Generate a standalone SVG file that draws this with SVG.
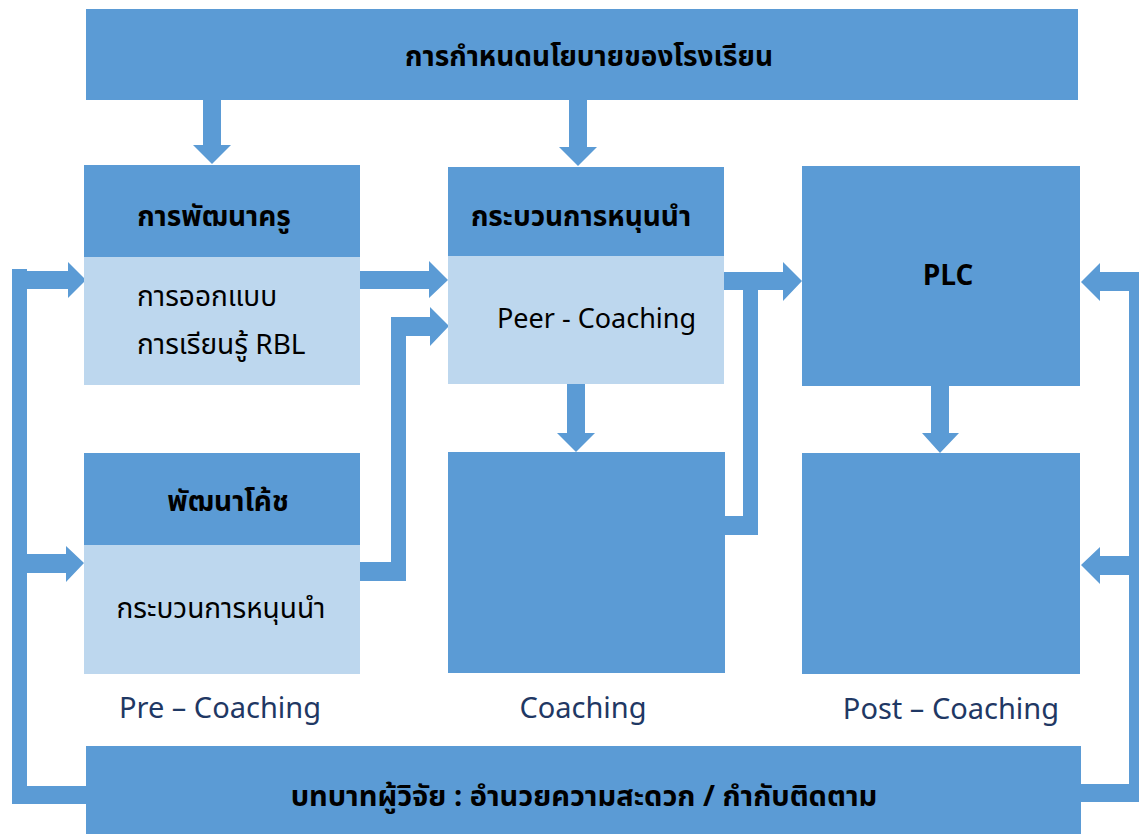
<svg xmlns="http://www.w3.org/2000/svg" width="1139" height="834" viewBox="0 0 1139 834">
<style>
.dk{fill:#5B9BD5}
.lt{fill:#BDD7EE}
.t{font-family:"Noto Sans Thai","Leelawadee UI","Tahoma","Noto Sans","DejaVu Sans",sans-serif;fill:#000}
.b{font-weight:bold;font-size:28px}
.r{font-size:28px}
.lab{font-family:"Noto Sans","Open Sans",sans-serif;font-size:29px;fill:#1F3864}
</style>
<rect width="1139" height="834" fill="#fff"/>
<g id="connectors" class="dk">
<polygon points="203,100 221,100 221,145 231,145 212,164 193,145 203,145"/>
<polygon points="569,100 587,100 587,147 597,147 578,166 559,147 569,147"/>
<polygon points="567,384 585,384 585,433 595,433 576,452 557,433 567,433"/>
<polygon points="931,386 949,386 949,433 959,433 940,453 922,433 931,433"/>
<rect x="12" y="269" width="15" height="535"/>
<rect x="12" y="786" width="75" height="18"/>
<polygon points="27,271 68,271 68,262 86,280 68,298 68,289 27,289"/>
<polygon points="27,554 66,554 66,546 84,563 66,582 66,573 27,573"/>
<polygon points="360,271 429,271 429,261 448,280 429,298 429,289 360,289"/>
<polygon points="360,562 391,562 391,317 430,317 430,307 449,326 430,346 430,336 406,336 406,581 360,581"/>
<polygon points="724,272 783,272 783,262 802,281 783,301 783,290 758,290 758,535 725,535 725,516 743,516 743,290 724,290"/>
<rect x="1129" y="272" width="15" height="530"/>
<rect x="1080" y="784" width="64" height="18"/>
<polygon points="1129,272 1100,272 1100,263 1081,282 1100,301 1100,291 1129,291"/>
<polygon points="1129,556 1100,556 1100,547 1081,565 1100,584 1100,575 1129,575"/>
</g>
<g id="policy">
<rect class="dk" x="86" y="9" width="992" height="91"/>
<text class="t b" x="589" y="66" text-anchor="middle">การกำหนดนโยบายของโรงเรียน</text>
</g>
<g id="teacher-dev">
<rect class="dk" x="84" y="165" width="276" height="92"/>
<rect class="lt" x="84" y="257" width="276" height="128"/>
<text class="t b" x="214" y="226" text-anchor="middle">การพัฒนาครู</text>
<text class="t r" x="137" y="306">การออกแบบ</text>
<text class="t r" x="137" y="354">การเรียนรู้ RBL</text>
</g>
<g id="coach-dev">
<rect class="dk" x="84" y="453" width="276" height="92"/>
<rect class="lt" x="84" y="545" width="276" height="129"/>
<text class="t b" x="228" y="511" text-anchor="middle">พัฒนาโค้ช</text>
<text class="t r" x="221" y="618" text-anchor="middle">กระบวนการหนุนนำ</text>
</g>
<g id="support-process">
<rect class="dk" x="448" y="167" width="276" height="89"/>
<rect class="lt" x="448" y="256" width="276" height="128"/>
<text class="t b" x="581" y="226" text-anchor="middle">กระบวนการหนุนนำ</text>
<text class="t r" x="497" y="328" style="font-size:27px">Peer - Coaching</text>
</g>
<g id="coaching-box">
<rect class="dk" x="448" y="452" width="277" height="221"/>
</g>
<g id="plc">
<rect class="dk" x="802" y="166" width="278" height="220"/>
<text class="t b" x="948" y="285" text-anchor="middle">PLC</text>
</g>
<g id="post-box">
<rect class="dk" x="802" y="453" width="278" height="221"/>
</g>
<g id="labels">
<text class="lab" x="220" y="718" text-anchor="middle">Pre – Coaching</text>
<text class="lab" x="583" y="718" text-anchor="middle">Coaching</text>
<text class="lab" x="951" y="719" text-anchor="middle">Post – Coaching</text>
</g>
<g id="researcher">
<rect class="dk" x="86" y="746" width="995" height="88"/>
<text class="t b" x="584" y="806" text-anchor="middle" style="font-size:29px">บทบาทผู้วิจัย : อำนวยความสะดวก / กำกับติดตาม</text>
</g>
</svg>
